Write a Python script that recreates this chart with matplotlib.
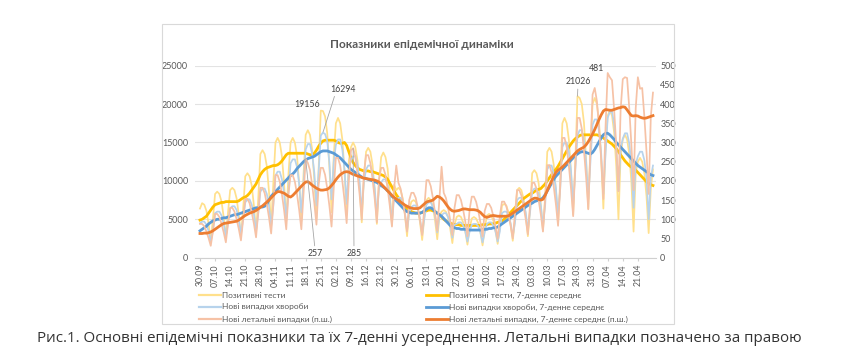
import matplotlib
matplotlib.use("Agg")
import matplotlib.pyplot as plt
from matplotlib.patches import Rectangle
from matplotlib.lines import Line2D
import numpy as np

W, H = 858, 356

tick_labels = ["30.09", "07.10", "14.10", "21.10", "28.10", "04.11", "11.11", "18.11",
               "25.11", "02.12", "09.12", "16.12", "23.12", "30.12", "06.01", "13.01",
               "20.01", "27.01", "03.02", "10.02", "17.02", "24.02", "03.03", "10.03",
               "17.03", "24.03", "31.03", "07.04", "14.04", "21.04"]

# Positive tests (daily)
tests = [6400, 7100, 6900, 6100, 4400, 2200, 5000,
         8300, 8600, 8300, 7300, 5300, 2600, 5900,
         8800, 9100, 8800, 7700, 5600, 2800, 6300,
         10600, 11000, 10600, 9400, 6800, 3400, 7600,
         13500, 14000, 13500, 11900, 8600, 4300, 9700,
         15000, 15600, 15000, 13200, 9600, 4800, 10800,
         15000, 15600, 15000, 13200, 9600, 4800, 10800,
         16000, 16600, 16000, 14100, 10200, 5100, 11500,
         19156, 19100, 18400, 16200, 11800, 5900, 13200,
         17500, 18200, 17500, 15400, 11200, 5600, 12600,
         14400, 15000, 14400, 12700, 9200, 4600, 10400,
         13800, 14300, 13800, 12100, 8800, 4400, 9900,
         13100, 13700, 13100, 11600, 8400, 4200, 9500,
         8800, 9100, 8800, 7700, 5600, 2800, 6300,
         7300, 7500, 7300, 6400, 4600, 2300, 5200,
         7500, 7800, 7500, 6600, 4800, 2400, 5400,
         6000, 6200, 6000, 5300, 3800, 1900, 4300,
         5300, 5500, 5300, 4600, 3400, 1700, 3800,
         5100, 5300, 5100, 4500, 3300, 1600, 3700,
         5500, 5700, 5500, 4800, 3500, 1800, 4000,
         6800, 7000, 6800, 5900, 4300, 2200, 4900,
         8800, 9100, 8800, 7700, 5600, 2800, 6300,
         11000, 11400, 11000, 9700, 7000, 3500, 7900,
         13800, 14300, 13800, 12100, 8800, 4400, 9900,
         17500, 18200, 17500, 15400, 11200, 5600, 12600,
         21026, 20800, 20000, 17600, 12800, 6400, 14400,
         20000, 20800, 20000, 17600, 12800, 6400, 14400,
         18500, 19200, 18500, 16300, 11800, 5000, 13300,
         15400, 16000, 15400, 13500, 9800, 3400, 11100,
         12500, 13000, 12500, 11000, 8000, 3200, 9000,
         11500]

# Positive tests, 7-day average (thousands)
tests_avg_k = [4.9, 5.0, 5.2, 5.4, 5.8, 6.2, 6.6,
               6.9, 7.0, 7.1, 7.2, 7.2, 7.3, 7.3,
               7.3, 7.3, 7.3, 7.3, 7.4, 7.6, 7.8,
               7.9, 8.1, 8.4, 8.8, 9.2, 9.6, 10.2,
               10.8, 11.2, 11.5, 11.7, 11.8, 11.9, 12.0,
               12.0, 12.1, 12.3, 12.6, 13.0, 13.4, 13.6,
               13.6, 13.6, 13.6, 13.6, 13.6, 13.6, 13.6,
               13.6, 13.5, 13.4, 13.4, 13.6, 14.0, 14.5,
               14.9, 15.2, 15.3, 15.3, 15.3, 15.3, 15.3,
               15.2, 15.0, 14.9, 14.9, 15.0, 14.6, 13.8,
               13.0, 12.4, 12.0, 11.7, 11.5, 11.4, 11.3,
               11.3, 11.3, 11.2, 11.2, 11.1, 11.0, 10.9,
               10.8, 10.7, 10.5, 10.2, 9.7, 9.2, 8.7,
               8.2, 7.8, 7.4, 7.0, 6.7, 6.4, 6.2,
               6.0, 5.9, 5.8, 5.8, 5.8, 5.9, 6.0,
               6.1, 6.2, 6.2, 6.1, 6.0, 5.8, 5.6,
               5.3, 5.0, 4.8, 4.6, 4.5, 4.4, 4.3,
               4.3, 4.3, 4.2, 4.2, 4.2, 4.2, 4.2,
               4.2, 4.2, 4.2, 4.2, 4.2, 4.3, 4.3,
               4.3, 4.4, 4.4, 4.4, 4.5, 4.6, 4.7,
               4.8, 5.0, 5.3, 5.6, 5.9, 6.2, 6.5,
               6.8, 7.1, 7.4, 7.7, 7.9, 8.1, 8.3,
               8.4, 8.6, 8.8, 8.9, 9.0, 9.3, 9.6,
               10.0, 10.4, 10.8, 11.2, 11.5, 11.9, 12.4,
               12.9, 13.4, 13.9, 14.4, 14.8, 15.2, 15.5,
               15.7, 15.9, 16.0, 16.0, 16.0, 16.0, 16.0,
               16.0, 16.0, 16.0, 15.9, 15.8, 15.6, 15.4,
               15.2, 15.0, 14.8, 14.5, 14.2, 13.8, 13.4,
               13.0, 12.6, 12.3, 12.0, 11.8, 11.6, 11.4,
               11.1, 10.8, 10.5, 10.2, 9.9, 9.7, 9.5,
               9.4]

# New cases (daily)
cases = [4500, 4700, 4700, 4300, 3500, 2100, 3500,
         5800, 6000, 6000, 5500, 4500, 2800, 4500,
         6400, 6700, 6700, 6200, 5000, 3100, 5000,
         7200, 7600, 7600, 6900, 5700, 3500, 5700,
         8600, 9000, 9000, 8300, 6800, 4100, 6800,
         10700, 11200, 11200, 10200, 8400, 5100, 8400,
         12300, 12800, 12800, 11800, 9600, 5900, 9600,
         14100, 14800, 14800, 13500, 11100, 6800, 11100,
         15900, 16294, 16100, 15200, 12400, 7600, 12400,
         14700, 15400, 15400, 14100, 11500, 7000, 11500,
         12700, 13200, 13200, 12100, 9900, 6100, 9900,
         11500, 12000, 12000, 11000, 9000, 5500, 9000,
         9800, 10200, 10200, 9400, 7700, 4700, 7700,
         7500, 7800, 7800, 7200, 5900, 3600, 5900,
         6600, 6800, 6800, 6300, 5100, 3100, 5100,
         6900, 7200, 7200, 6600, 5400, 3300, 5400,
         5500, 5800, 5800, 5300, 4300, 2600, 4300,
         4400, 4600, 4600, 4200, 3400, 2100, 3400,
         4300, 4400, 4400, 4100, 3300, 2000, 3300,
         4400, 4600, 4600, 4200, 3400, 2100, 3400,
         5800, 6000, 6000, 5500, 4500, 2800, 4500,
         7500, 7800, 7800, 7200, 5900, 3600, 5900,
         8600, 9000, 9000, 8300, 6800, 4100, 6800,
         11500, 12000, 12000, 11000, 9000, 5500, 9000,
         14400, 15000, 15000, 13800, 11300, 6900, 11300,
         15900, 16600, 16600, 15200, 12400, 7600, 12400,
         17300, 18000, 18000, 16500, 13500, 8300, 13500,
         18200, 19000, 19000, 17400, 14200, 8700, 14200,
         15500, 16200, 16200, 14900, 12200, 6500, 12200,
         13200, 13800, 13800, 12700, 10400, 5000, 10400,
         12000]

# New cases, 7-day average (thousands)
cases_avg_k = [3.5, 3.7, 3.9, 4.1, 4.4, 4.6, 4.8,
               4.9, 5.0, 5.0, 5.1, 5.2, 5.2, 5.3,
               5.4, 5.5, 5.6, 5.6, 5.7, 5.8, 5.9,
               6.0, 6.1, 6.2, 6.3, 6.4, 6.5, 6.5,
               6.6, 6.6, 6.7, 7.0, 7.5, 8.0, 8.3,
               8.6, 8.9, 9.2, 9.5, 9.8, 10.1, 10.4,
               10.7, 10.9, 11.2, 11.6, 11.9, 12.2, 12.5,
               12.7, 12.9, 13.0, 13.1, 13.2, 13.4, 13.6,
               13.8, 13.9, 13.9, 13.9, 13.8, 13.7, 13.6,
               13.4, 13.2, 13.0, 12.7, 12.4, 12.1, 11.8,
               11.5, 11.3, 11.1, 10.9, 10.7, 10.5, 10.4,
               10.3, 10.2, 10.1, 10.0, 9.9, 9.8, 9.6,
               9.4, 9.2, 9.0, 8.7, 8.4, 8.0, 7.7,
               7.4, 7.1, 6.8, 6.5, 6.2, 6.0, 5.9,
               5.8, 5.8, 5.8, 5.8, 5.8, 5.9, 6.1,
               6.3, 6.5, 6.5, 6.3, 6.0, 5.8, 5.6,
               5.4, 5.1, 4.8, 4.5, 4.2, 4.0, 3.9,
               3.8, 3.8, 3.7, 3.7, 3.7, 3.7, 3.6,
               3.6, 3.6, 3.6, 3.6, 3.6, 3.7, 3.7,
               3.7, 3.8, 3.8, 3.9, 3.9, 4.0, 4.2,
               4.4, 4.6, 4.8, 5.0, 5.2, 5.4, 5.6,
               5.8, 6.0, 6.2, 6.4, 6.6, 6.8, 7.0,
               7.1, 7.3, 7.4, 7.5, 7.6, 7.8, 8.2,
               8.7, 9.2, 9.7, 10.2, 10.6, 10.9, 11.2,
               11.5, 11.8, 12.1, 12.4, 12.7, 13.0, 13.3,
               13.5, 13.7, 13.8, 13.8, 13.7, 13.6, 13.5,
               13.7, 14.1, 14.6, 15.1, 15.6, 16.0, 16.2,
               16.2, 16.0, 15.7, 15.4, 15.0, 14.7, 14.4,
               14.1, 13.8, 13.5, 13.2, 12.9, 12.6, 12.3,
               12.0, 11.8, 11.6, 11.4, 11.2, 11.0, 10.8,
               10.7]

# New deaths (daily, secondary axis)
deaths = [88, 88, 82, 68, 51, 31, 68,
          114, 114, 106, 88, 66, 40, 88,
          130, 130, 120, 100, 75, 45, 100,
          153, 153, 142, 118, 89, 53, 118,
          182, 182, 168, 140, 105, 63, 140,
          215, 215, 198, 165, 124, 74, 165,
          215, 215, 198, 165, 124, 74, 165,
          257, 247, 228, 190, 143, 86, 190,
          234, 234, 216, 180, 135, 81, 180,
          260, 260, 240, 200, 150, 90, 200,
          280, 285, 264, 220, 165, 99, 220,
          267, 267, 246, 205, 154, 92, 205,
          234, 234, 216, 180, 135, 81, 180,
          240, 195, 180, 150, 113, 68, 150,
          169, 169, 156, 130, 98, 59, 130,
          202, 202, 186, 155, 116, 70, 155,
          237, 169, 156, 130, 98, 59, 130,
          163, 163, 150, 125, 94, 56, 125,
          159, 159, 146, 122, 92, 55, 122,
          140, 140, 130, 108, 81, 49, 108,
          146, 146, 134, 112, 84, 50, 112,
          176, 176, 162, 135, 101, 61, 135,
          195, 195, 180, 150, 113, 68, 150,
          241, 241, 222, 185, 139, 83, 185,
          312, 312, 288, 240, 180, 108, 240,
          364, 364, 336, 280, 210, 126, 280,
          425, 442, 408, 340, 255, 153, 340,
          481, 470, 462, 385, 289, 173, 385,
          465, 470, 468, 390, 293, 176, 390,
          470, 440, 442, 368, 276, 166, 368,
          430]

# New deaths, 7-day average
deaths_avg = [63, 63, 64, 64, 65, 67, 70,
              74, 78, 82, 86, 89, 90, 91,
              92, 93, 94, 95, 98, 102, 106,
              110, 113, 116, 118, 120, 123, 127,
              131, 135, 140, 145, 150, 156, 162,
              168, 172, 172, 170, 168, 164, 160,
              158, 162, 168, 174, 180, 186, 192,
              197, 198, 194, 189, 185, 181, 178,
              176, 176, 177, 178, 182, 188, 195,
              203, 210, 216, 220, 223, 224, 223,
              220, 217, 215, 213, 211, 209, 207,
              206, 205, 204, 203, 202, 200, 197,
              192, 186, 180, 174, 168, 162, 157,
              153, 149, 145, 141, 137, 134, 131,
              129, 128, 128, 128, 130, 135, 140,
              145, 147, 148, 150, 155, 160, 158,
              154, 148, 140, 132, 126, 122, 121,
              122, 123, 125, 127, 127, 126, 125,
              125, 125, 124, 122, 118, 112, 107,
              105, 107, 109, 110, 109, 108, 108,
              108, 108, 108, 109, 112, 116, 120,
              124, 128, 132, 136, 140, 144, 148,
              152, 155, 155, 152, 150, 152, 162,
              175, 188, 200, 212, 222, 228, 232,
              236, 242, 248, 254, 260, 266, 272,
              278, 282, 285, 288, 294, 302, 312,
              322, 334, 347, 360, 372, 382, 386,
              385, 384, 384, 386, 388, 390, 391,
              393, 392, 385, 377, 370, 369, 370,
              369, 366, 364, 363, 364, 366, 368,
              370]

legend_labels = ["Позитивні тести", "Нові випадки хвороби", "Нові летальні випадки (п.ш.)",
                 "Позитивні тести, 7-денне середнє", "Нові випадки хвороби, 7-денне середнє",
                 "Нові летальні випадки, 7-денне середнє (п.ш.)"]

C_TEST_RAW, C_TEST_AVG = "#FFE08C", "#FFC000"
C_CASE_RAW, C_CASE_AVG = "#B7D3EC", "#5B9BD5"
C_DTH_RAW, C_DTH_AVG = "#F6C2A6", "#ED7D31"
GRAY = "#595959"

FONT = "Lato"
plt.rcParams['font.family'] = [FONT, 'DejaVu Sans']

fig = plt.figure(figsize=(W / 100, H / 100), dpi=100)
fig.patch.set_facecolor("white")

def fx(x):
    return x / W

def fy(y):
    return 1 - y / H

# chart border
fig.add_artist(Rectangle((fx(162), fy(324)), (674 - 162) / W, (324 - 24) / H,
                         transform=fig.transFigure, fill=False, edgecolor="#d9d9d9", lw=0.8))

ax = fig.add_axes([fx(195), fy(257.7), (656 - 195) / W, (257.7 - 65.7) / H])
ax2 = ax.twinx()

RAW_LW, AVG_LW = 1.25, 2.0
ax.plot(np.arange(len(tests)), tests, color=C_TEST_RAW, lw=RAW_LW, zorder=2)
ax.plot(np.arange(len(tests_avg_k)), np.array(tests_avg_k) * 1000, color=C_TEST_AVG, lw=AVG_LW, zorder=3)
ax.plot(np.arange(len(cases)), cases, color=C_CASE_RAW, lw=RAW_LW, zorder=4)
ax.plot(np.arange(len(cases_avg_k)), np.array(cases_avg_k) * 1000, color=C_CASE_AVG, lw=AVG_LW, zorder=5)
ax2.plot(np.arange(len(deaths)), deaths, color=C_DTH_RAW, lw=RAW_LW, zorder=2)
ax2.plot(np.arange(len(deaths_avg)), deaths_avg, color=C_DTH_AVG, lw=AVG_LW, zorder=3)

ax.set_xlim(-2.3, 211.4)
ax.set_ylim(0, 25000)
ax2.set_ylim(0, 500)
ax.set_yticks(np.arange(0, 25001, 5000))
ax2.set_yticks(np.arange(0, 501, 50))
ax.yaxis.grid(True, color="#e3e3e3", lw=0.8)
ax.set_axisbelow(True)

tick_pos = np.arange(0, 7 * len(tick_labels), 7)
ax.set_xticks(tick_pos)
ax.set_xticklabels(tick_labels, rotation=90, fontsize=6.3, color=GRAY)
ax.tick_params(axis="x", length=2.5, color="#d0d0d0", pad=2)
ax.tick_params(axis="y", length=0, labelsize=6.5, labelcolor=GRAY, pad=5)
ax2.tick_params(axis="y", length=0, labelsize=6.5, labelcolor=GRAY, pad=3)
for a in (ax, ax2):
    for s in ("top", "left", "right"):
        a.spines[s].set_visible(False)
    a.spines["bottom"].set_color("#d0d0d0")
    a.spines["bottom"].set_linewidth(0.8)
ax2.spines["bottom"].set_visible(False)

# title
fig.text(fx(422), fy(44), "Показники епідемічної динаміки", ha="center", va="center",
         fontsize=8.6, fontweight="bold", color=GRAY)

# annotations
ann_kw = dict(fontsize=6.3, color="#404040", ha="center", va="center")
line_kw = dict(arrowstyle="-", color="#a6a6a6", lw=0.6, shrinkA=0, shrinkB=0)
ax.annotate("19156", xy=(56, tests[56]), xytext=(49.6, 19900), **ann_kw)
ax.annotate("16294", xy=(57, cases[57]), xytext=(66.3, 21950), arrowprops=dict(line_kw, relpos=(0.2, 0)), **ann_kw)
ax2.annotate("257", xy=(49, deaths[49]), xytext=(53.3, 12), arrowprops=dict(line_kw, relpos=(0.5, 1)), **ann_kw)
ax2.annotate("285", xy=(71, deaths[71]), xytext=(71.4, 12), arrowprops=dict(line_kw, relpos=(0.5, 1)), **ann_kw)
ax.annotate("21026", xy=(175, tests[175]), xytext=(175.2, 22900), arrowprops=dict(line_kw, relpos=(0.5, 0)), **ann_kw)
ax2.annotate("481", xy=(189, deaths[189]), xytext=(184, 494), **ann_kw)

# legend (two columns)
h_raw = [Line2D([], [], color=c, lw=1.6) for c in (C_TEST_RAW, C_CASE_RAW, C_DTH_RAW)]
h_avg = [Line2D([], [], color=c, lw=2.0) for c in (C_TEST_AVG, C_CASE_AVG, C_DTH_AVG)]
leg_kw = dict(loc="upper left", frameon=False, fontsize=6.0, handlelength=2.6, handletextpad=0.2,
              labelspacing=0.6, borderpad=0, borderaxespad=0, labelcolor=GRAY)
leg1 = fig.legend(h_raw, legend_labels[:3], bbox_to_anchor=(fx(199), fy(291.5)), **leg_kw)
leg2 = fig.legend(h_avg, legend_labels[3:], bbox_to_anchor=(fx(426), fy(291.5)), **leg_kw)

# caption
fig.text(fx(419), fy(338), "Рис.1. Основні епідемічні показники та їх 7-денні усереднення. "
         "Летальні випадки позначено за правою", ha="center", va="center",
         fontsize=10.9, color="#333333", family=["Open Sans", "DejaVu Sans"])

fig.savefig("out.png", dpi=100, facecolor="white")
